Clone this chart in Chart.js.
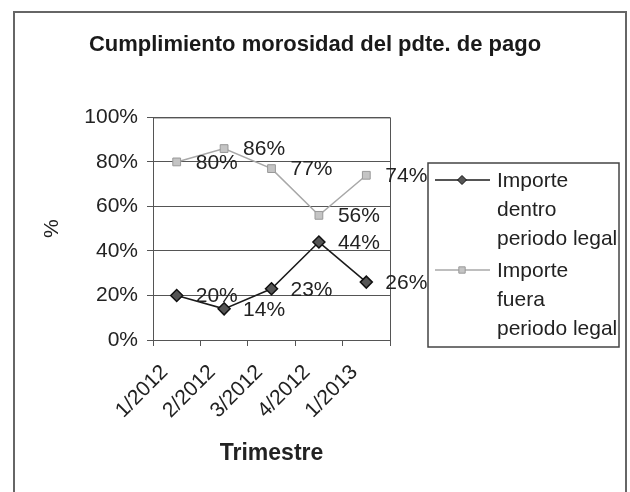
<!DOCTYPE html>
<html>
<head>
<meta charset="utf-8">
<script src="https://cdn.jsdelivr.net/npm/chart.js@4/dist/chart.umd.min.js"></script>
<style>
  html, body { margin: 0; padding: 0; background: #fff; }
  #frame {
    position: absolute; left: 13px; top: 11px;
    width: 610px; height: 482px;
    border: 2px solid #666;
  }
</style>
</head>
<body>
<div id="frame"><canvas id="chart"></canvas></div>
<script>
// Chart data
const trimestres = ['1/2012', '2/2012', '3/2012', '4/2012', '1/2013'];
const dentroPeriodo = [20, 14, 23, 44, 26];
const fueraPeriodo = [80, 86, 77, 56, 74];
const seriesLabels = ['Importe dentro periodo legal', 'Importe fuera periodo legal'];
const legendLines = [['Importe', 'dentro', 'periodo legal'], ['Importe', 'fuera', 'periodo legal']];
const yTicks = [0, 20, 40, 60, 80, 100];

const FONT = "'Liberation Sans', Arial, sans-serif";

// Value labels to the right of each point
const valueLabels = {
    id: 'valueLabels',
    afterDatasetsDraw(chart) {
        const ctx = chart.ctx;
        ctx.save();
        ctx.font = '21px ' + FONT;
        ctx.fillStyle = '#222';
        ctx.textAlign = 'left';
        ctx.textBaseline = 'middle';
        chart.data.datasets.forEach((ds, i) => {
            chart.getDatasetMeta(i).data.forEach((pt, j) => {
                ctx.fillText(ds.data[j] + '%', pt.x + 19, pt.y + 1);
            });
        });
        ctx.restore();
    }
};

// Border round the plot area
const plotBorder = {
    id: 'plotBorder',
    beforeDatasetsDraw(chart) {
        const { ctx, chartArea: a } = chart;
        ctx.save();
        ctx.strokeStyle = '#555';
        ctx.lineWidth = 1;
        ctx.strokeRect(a.left + 0.5, a.top + 0.5, a.right - a.left, a.bottom - a.top);
        ctx.restore();
    }
};

// Boxed legend with wrapped text
const boxLegend = {
    id: 'boxLegend',
    afterDraw(chart) {
        const ctx = chart.ctx;
        const left = 413, top = 150, right = 604, bottom = 334;
        ctx.save();
        ctx.strokeStyle = '#444';
        ctx.lineWidth = 1.5;
        ctx.strokeRect(left, top, right - left, bottom - top);
        ctx.font = '21px ' + FONT;
        ctx.textAlign = 'left';
        ctx.textBaseline = 'middle';
        chart.data.datasets.forEach((ds, i) => {
            const y = top + 17 + i * 90;
            ctx.strokeStyle = ds.borderColor;
            ctx.lineWidth = ds.borderWidth;
            ctx.beginPath();
            ctx.moveTo(left + 7, y);
            ctx.lineTo(left + 62, y);
            ctx.stroke();
            ctx.fillStyle = ds.pointBackgroundColor;
            ctx.strokeStyle = ds.pointBorderColor;
            ctx.lineWidth = 1;
            Chart.helpers.drawPoint(ctx, { pointStyle: ds.pointStyle, radius: 4.5, borderWidth: 1 }, left + 34, y);
            ctx.fillStyle = '#222';
            legendLines[i].forEach((line, k) => {
                ctx.fillText(line, left + 69, y + 1 + k * 29);
            });
        });
        ctx.restore();
    }
};

new Chart(document.getElementById('chart'), {
    type: 'line',
    data: {
        labels: trimestres,
        datasets: [
            {
                label: seriesLabels[0],
                data: dentroPeriodo,
                borderColor: '#1c1c1c',
                borderWidth: 1.5,
                pointStyle: 'rectRot',
                pointRadius: 6,
                pointBackgroundColor: '#555',
                pointBorderColor: '#111',
                pointBorderWidth: 1.5,
                tension: 0
            },
            {
                label: seriesLabels[1],
                data: fueraPeriodo,
                borderColor: '#a8a8a8',
                borderWidth: 1.5,
                pointStyle: 'rect',
                pointRadius: 5.5,
                pointBackgroundColor: '#c4c4c4',
                pointBorderColor: '#999',
                pointBorderWidth: 1,
                tension: 0
            }
        ]
    },
    options: {
        responsive: true,
        maintainAspectRatio: false,
        animation: false,
        layout: { padding: { left: 0, right: 10, top: 0, bottom: 0 } },
        plugins: {
            legend: { display: false },
            tooltip: { enabled: false },
            title: {
                display: true,
                text: 'Cumplimiento morosidad del pdte. de pago',
                color: '#1a1a1a',
                font: { family: FONT, size: 22, weight: 'bold' },
                padding: { top: 19, bottom: 59 }
            }
        },
        scales: {
            x: {
                offset: true,
                afterFit(scale) { scale.height = 155; },
                grid: {
                    offset: true,
                    drawOnChartArea: false,
                    drawTicks: true,
                    tickLength: 6,
                    color: '#555'
                },
                border: { color: '#555' },
                ticks: {
                    minRotation: 45,
                    maxRotation: 45,
                    padding: 14,
                    labelOffset: -12,
                    color: '#222',
                    font: { family: FONT, size: 21 }
                },
                title: {
                    display: true,
                    text: 'Trimestre',
                    color: '#222',
                    font: { family: FONT, size: 23, weight: 'bold' },
                    padding: { top: 0, bottom: 28 }
                }
            },
            y: {
                min: 0,
                max: 100,
                afterFit(scale) { scale.width = 138; },
                afterBuildTicks(scale) { scale.ticks = yTicks.map(v => ({ value: v })); },
                grid: { color: '#555', tickLength: 6 },
                border: { color: '#555' },
                ticks: {
                    padding: 9,
                    color: '#222',
                    font: { family: FONT, size: 21 },
                    callback: v => v + '%'
                },
                title: {
                    display: true,
                    text: '%',
                    color: '#222',
                    font: { family: FONT, size: 21 },
                    padding: { top: 25, bottom: 0 }
                }
            },
            // empty right-hand axis that only reserves room for the legend
            yRoom: {
                position: 'right',
                afterFit(scale) { scale.width = 225; },
                grid: { display: false },
                border: { display: false },
                ticks: { display: false }
            }
        }
    },
    plugins: [plotBorder, valueLabels, boxLegend]
});
</script>
</body>
</html>
